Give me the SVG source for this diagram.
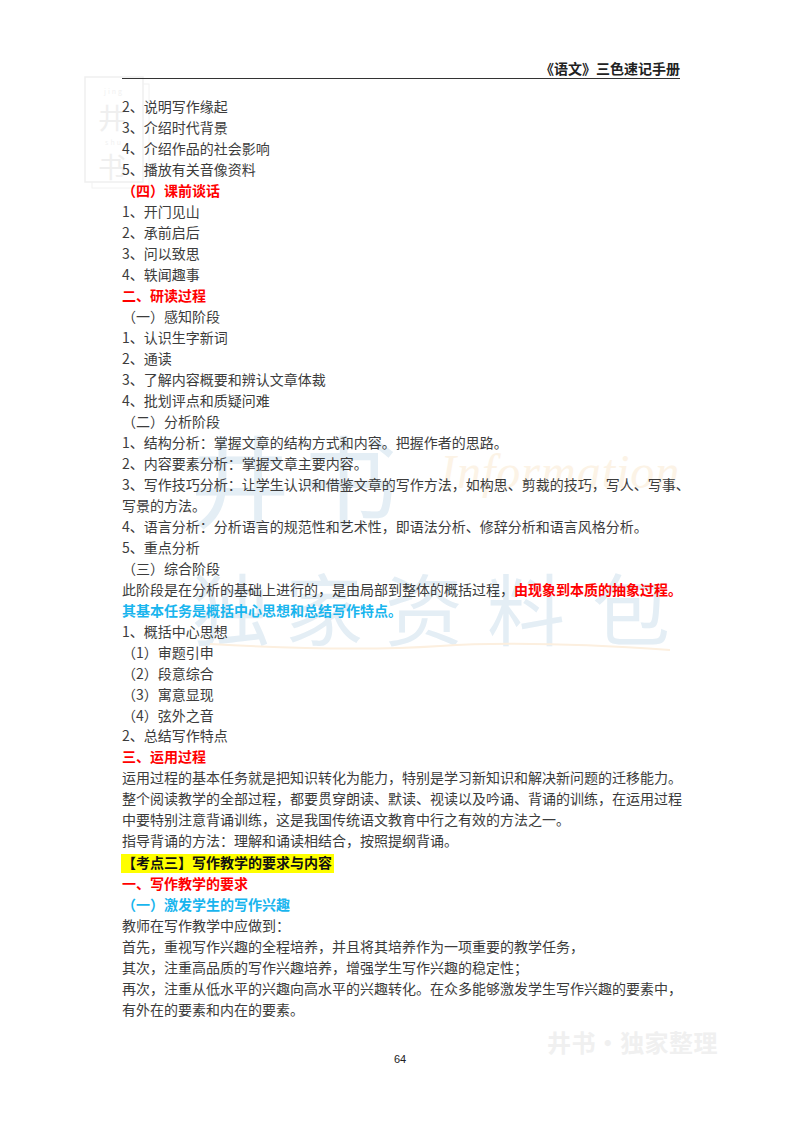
<svg xmlns="http://www.w3.org/2000/svg" width="800" height="1132" viewBox="0 0 800 1132">
<style>
text{font-family:"Noto Sans CJK SC","Liberation Sans",sans-serif}
.t{font-size:14px;fill:#3c3c3c}
.r{font-size:14px;fill:#f00;font-weight:700}
.b{font-size:14px;fill:#19b5ee;font-weight:700}
.k{font-size:14px;fill:#111;font-weight:700}
.wm{fill:#e4eef5}
.lg{fill:#efefef;font-size:28px}
.ls{fill:#f1f1f1;font-size:7px;letter-spacing:2px}
</style>
<rect width="800" height="1132" fill="#fff"/>
<g id="watermarks">
<rect x="92" y="84" width="57" height="104" fill="none" stroke="#f2f2f2" stroke-width="1"/>
<rect x="85" y="77" width="58" height="105" fill="#fff" stroke="#efefef" stroke-width="1.500"/>
<text class="ls" x="114" y="94" text-anchor="middle">jing</text>
<text class="lg" x="112" y="129" text-anchor="middle">井</text>
<text class="ls" x="114" y="145" text-anchor="middle">shu</text>
<text class="lg" x="112" y="178" text-anchor="middle">书</text>
<text class="wm" x="190" y="520" font-size="100">井</text>
<text class="wm" x="298" y="520" font-size="100">书</text>
<text class="wm" x="192" y="640" font-size="78">独</text>
<text class="wm" x="285" y="640" font-size="78">家</text>
<text class="wm" x="385" y="640" font-size="78">资</text>
<text class="wm" x="487" y="640" font-size="78">料</text>
<text class="wm" x="592" y="640" font-size="78">包</text>
<path d="M210 644Q350 652 440 646T670 650" fill="none" stroke="#fcefdf" stroke-width="2"/>
<text x="440" y="488" font-size="48" fill="#fcf3e6" font-style="italic" letter-spacing="1" style="font-family:'Liberation Serif',serif">Information</text>
<text x="547" y="1052" font-size="24" font-weight="700" fill="#f0f0f0" letter-spacing="0.400">井书·独家整理</text>
</g>
<g id="header">
<text x="680" y="74" text-anchor="end" style="font-size:14px;font-weight:700;fill:#222">《语文》三色速记手册</text>
<line x1="122" y1="78.500" x2="680" y2="78.500" stroke="#333" stroke-width="1"/>
</g>
<g id="body">
<text class="t" x="122" y="112">2、说明写作缘起</text>
<text class="t" x="122" y="133">3、介绍时代背景</text>
<text class="t" x="122" y="154">4、介绍作品的社会影响</text>
<text class="t" x="122" y="175">5、播放有关音像资料</text>
<text class="r" x="122" y="196">（四）课前谈话</text>
<text class="t" x="122" y="217">1、开门见山</text>
<text class="t" x="122" y="238">2、承前启后</text>
<text class="t" x="122" y="259">3、问以致思</text>
<text class="t" x="122" y="280">4、轶闻趣事</text>
<text class="r" x="122" y="301">二、研读过程</text>
<text class="t" x="122" y="322">（一）感知阶段</text>
<text class="t" x="122" y="343">1、认识生字新词</text>
<text class="t" x="122" y="364">2、通读</text>
<text class="t" x="122" y="385">3、了解内容概要和辨认文章体裁</text>
<text class="t" x="122" y="406">4、批划评点和质疑问难</text>
<text class="t" x="122" y="427">（二）分析阶段</text>
<text class="t" x="122" y="448">1、结构分析：掌握文章的结构方式和内容。把握作者的思路。</text>
<text class="t" x="122" y="469">2、内容要素分析：掌握文章主要内容。</text>
<text class="t" x="122" y="490">3、写作技巧分析：让学生认识和借鉴文章的写作方法，如构思、剪裁的技巧，写人、写事、</text>
<text class="t" x="122" y="511">写景的方法。</text>
<text class="t" x="122" y="532">4、语言分析：分析语言的规范性和艺术性，即语法分析、修辞分析和语言风格分析。</text>
<text class="t" x="122" y="553">5、重点分析</text>
<text class="t" x="122" y="574">（三）综合阶段</text>
<text class="t" x="122" y="595">此阶段是在分析的基础上进行的，是由局部到整体的概括过程，<tspan class="r">由现象到本质的抽象过程。</tspan></text>
<text class="b" x="122" y="616">其基本任务是概括中心思想和总结写作特点。</text>
<text class="t" x="122" y="637">1、概括中心思想</text>
<text class="t" x="122" y="658">（1）审题引申</text>
<text class="t" x="122" y="679">（2）段意综合</text>
<text class="t" x="122" y="700">（3）寓意显现</text>
<text class="t" x="122" y="721">（4）弦外之音</text>
<text class="t" x="122" y="741">2、总结写作特点</text>
<text class="r" x="122" y="762">三、运用过程</text>
<text class="t" x="122" y="783">运用过程的基本任务就是把知识转化为能力，特别是学习新知识和解决新问题的迁移能力。</text>
<text class="t" x="122" y="804">整个阅读教学的全部过程，都要贯穿朗读、默读、视读以及吟诵、背诵的训练，在运用过程</text>
<text class="t" x="122" y="825">中要特别注意背诵训练，这是我国传统语文教育中行之有效的方法之一。</text>
<text class="t" x="122" y="846">指导背诵的方法：理解和诵读相结合，按照提纲背诵。</text>
<rect x="121" y="854" width="213" height="19" fill="#ff0"/>
<text class="k" x="122" y="868">【考点三】写作教学的要求与内容</text>
<text class="r" x="122" y="889">一、写作教学的要求</text>
<text class="b" x="122" y="910">（一）激发学生的写作兴趣</text>
<text class="t" x="122" y="931">教师在写作教学中应做到：</text>
<text class="t" x="122" y="952">首先，重视写作兴趣的全程培养，并且将其培养作为一项重要的教学任务，</text>
<text class="t" x="122" y="973">其次，注重高品质的写作兴趣培养，增强学生写作兴趣的稳定性；</text>
<text class="t" x="122" y="994">再次，注重从低水平的兴趣向高水平的兴趣转化。在众多能够激发学生写作兴趣的要素中，</text>
<text class="t" x="122" y="1015">有外在的要素和内在的要素。</text>
</g>
<text id="page" x="400" y="1063" text-anchor="middle" style="font-size:11px;fill:#222;font-family:'Liberation Sans',sans-serif">64</text>
</svg>
